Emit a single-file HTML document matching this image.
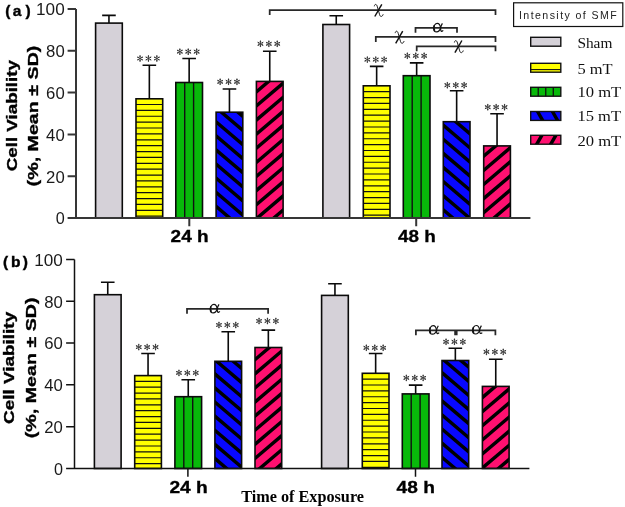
<!DOCTYPE html>
<html><head><meta charset="utf-8"><title>Cell viability</title><style>
html,body{margin:0;padding:0;background:#fff;}
svg{display:block;will-change:transform;}
text{font-family:"Liberation Sans",sans-serif;}
.tick{font-size:15.6px;fill:#1a1a1a;}
.xl{font-size:15.6px;font-weight:bold;fill:#000;stroke:#000;stroke-width:0.3px;}
.yl{font-size:15.4px;font-weight:bold;fill:#000;stroke:#000;stroke-width:0.35px;}
.pl{font-size:15.5px;font-weight:bold;fill:#000;stroke:#000;stroke-width:0.4px;}
.tx{font-family:"Liberation Serif",serif;font-size:16.3px;font-weight:bold;fill:#000;}
.lt{font-size:10.6px;fill:#222;}
.li{font-family:"Liberation Serif",serif;font-size:13.6px;fill:#111;}
.gk{font-family:"Liberation Serif",serif;font-size:18px;fill:#111;}
.ast{font-family:"Liberation Serif",serif;font-size:15px;fill:#333;text-anchor:middle;}
</style></head>
<body><svg width="625" height="507" viewBox="0 0 625 507">
<defs><clipPath id="c1"><rect x="216.1" y="112.2" width="26.7" height="105.8"/></clipPath><clipPath id="c2"><rect x="256.4" y="81.4" width="26.7" height="136.6"/></clipPath><clipPath id="c3"><rect x="443.3" y="121.7" width="26.7" height="96.3"/></clipPath><clipPath id="c4"><rect x="483.7" y="145.9" width="26.7" height="72.1"/></clipPath><clipPath id="c5"><rect x="214.9" y="361.3" width="26.7" height="107.2"/></clipPath><clipPath id="c6"><rect x="255" y="347.5" width="26.7" height="121"/></clipPath><clipPath id="c7"><rect x="442" y="360.5" width="26.7" height="108"/></clipPath><clipPath id="c8"><rect x="482.4" y="386.4" width="26.7" height="82.1"/></clipPath><clipPath id="c9"><rect x="530.7" y="111.5" width="30.1" height="8.9"/></clipPath><clipPath id="c10"><rect x="530.7" y="135.3" width="30.1" height="8.9"/></clipPath></defs>
<rect width="625" height="507" fill="#fff"/>
<path d="M108.95 23.1V15.4M102.15 15.4H115.75" stroke="#0a0a0a" stroke-width="1.6" fill="none"/>
<rect x="95.6" y="23.1" width="26.7" height="194.9" fill="#d5d1d8"/>
<rect x="95.6" y="23.1" width="26.7" height="194.9" fill="none" stroke="#0a0a0a" stroke-width="1.6"/>
<path d="M149.35 98.8V65.3M142.55 65.3H156.15" stroke="#0a0a0a" stroke-width="1.6" fill="none"/>
<rect x="136" y="98.8" width="26.7" height="119.2" fill="#ffff00"/>
<path d="M136 104.5H162.7M136 110.38H162.7M136 116.26H162.7M136 122.14H162.7M136 128.02H162.7M136 133.9H162.7M136 139.78H162.7M136 145.66H162.7M136 151.54H162.7M136 157.42H162.7M136 163.3H162.7M136 169.18H162.7M136 175.06H162.7M136 180.94H162.7M136 186.82H162.7M136 192.7H162.7M136 198.58H162.7M136 204.46H162.7M136 210.34H162.7M136 216.22H162.7" stroke="#111" stroke-width="1.2" fill="none"/>
<rect x="136" y="98.8" width="26.7" height="119.2" fill="none" stroke="#0a0a0a" stroke-width="1.6"/>
<path d="M140.05 55.6L140.05 61.4M137.54 57.05L142.56 59.95M137.54 59.95L142.56 57.05M148.45 55.6L148.45 61.4M145.94 57.05L150.96 59.95M145.94 59.95L150.96 57.05M156.85 55.6L156.85 61.4M154.34 57.05L159.36 59.95M154.34 59.95L159.36 57.05" stroke="#333" stroke-width="0.85" stroke-linecap="round" fill="none"/><g fill="#333"><circle cx="140.05" cy="60.75" r="0.72"/><circle cx="138.1" cy="59.62" r="0.72"/><circle cx="138.1" cy="57.38" r="0.72"/><circle cx="140.05" cy="56.25" r="0.72"/><circle cx="142" cy="57.38" r="0.72"/><circle cx="142" cy="59.62" r="0.72"/><circle cx="148.45" cy="60.75" r="0.72"/><circle cx="146.5" cy="59.62" r="0.72"/><circle cx="146.5" cy="57.38" r="0.72"/><circle cx="148.45" cy="56.25" r="0.72"/><circle cx="150.4" cy="57.38" r="0.72"/><circle cx="150.4" cy="59.62" r="0.72"/><circle cx="156.85" cy="60.75" r="0.72"/><circle cx="154.9" cy="59.62" r="0.72"/><circle cx="154.9" cy="57.38" r="0.72"/><circle cx="156.85" cy="56.25" r="0.72"/><circle cx="158.8" cy="57.38" r="0.72"/><circle cx="158.8" cy="59.62" r="0.72"/></g>
<path d="M189.15 82.5V58.5M182.35 58.5H195.95" stroke="#0a0a0a" stroke-width="1.6" fill="none"/>
<rect x="175.8" y="82.5" width="26.7" height="135.5" fill="#08b90a"/>
<path d="M184.7 82.5V218M193.6 82.5V218" stroke="#111" stroke-width="1.4" fill="none"/>
<rect x="175.8" y="82.5" width="26.7" height="135.5" fill="none" stroke="#0a0a0a" stroke-width="1.6"/>
<path d="M179.85 48.8L179.85 54.6M177.34 50.25L182.36 53.15M177.34 53.15L182.36 50.25M188.25 48.8L188.25 54.6M185.74 50.25L190.76 53.15M185.74 53.15L190.76 50.25M196.65 48.8L196.65 54.6M194.14 50.25L199.16 53.15M194.14 53.15L199.16 50.25" stroke="#333" stroke-width="0.85" stroke-linecap="round" fill="none"/><g fill="#333"><circle cx="179.85" cy="53.95" r="0.72"/><circle cx="177.9" cy="52.83" r="0.72"/><circle cx="177.9" cy="50.58" r="0.72"/><circle cx="179.85" cy="49.45" r="0.72"/><circle cx="181.8" cy="50.58" r="0.72"/><circle cx="181.8" cy="52.83" r="0.72"/><circle cx="188.25" cy="53.95" r="0.72"/><circle cx="186.3" cy="52.83" r="0.72"/><circle cx="186.3" cy="50.58" r="0.72"/><circle cx="188.25" cy="49.45" r="0.72"/><circle cx="190.2" cy="50.58" r="0.72"/><circle cx="190.2" cy="52.83" r="0.72"/><circle cx="196.65" cy="53.95" r="0.72"/><circle cx="194.7" cy="52.83" r="0.72"/><circle cx="194.7" cy="50.58" r="0.72"/><circle cx="196.65" cy="49.45" r="0.72"/><circle cx="198.6" cy="50.58" r="0.72"/><circle cx="198.6" cy="52.83" r="0.72"/></g>
<path d="M229.45 112.2V89M222.65 89H236.25" stroke="#0a0a0a" stroke-width="1.6" fill="none"/>
<rect x="216.1" y="112.2" width="26.7" height="105.8" fill="#0808ff"/>
<g clip-path="url(#c1)"><path d="M215.1 78.65L243.8 103.05M215.1 92.75L243.8 117.14M215.1 106.85L243.8 131.25M215.1 120.95L243.8 145.34M215.1 135.05L243.8 159.44M215.1 149.15L243.8 173.54M215.1 163.25L243.8 187.64M215.1 177.35L243.8 201.74M215.1 191.45L243.8 215.84M215.1 205.55L243.8 229.94M215.1 219.65L243.8 244.04M215.1 233.75L243.8 258.14M215.1 247.85L243.8 272.25" stroke="#000" stroke-width="3.43" fill="none"/></g>
<rect x="216.1" y="112.2" width="26.7" height="105.8" fill="none" stroke="#0a0a0a" stroke-width="1.6"/>
<path d="M220.15 78.9L220.15 84.7M217.64 80.35L222.66 83.25M217.64 83.25L222.66 80.35M228.55 78.9L228.55 84.7M226.04 80.35L231.06 83.25M226.04 83.25L231.06 80.35M236.95 78.9L236.95 84.7M234.44 80.35L239.46 83.25M234.44 83.25L239.46 80.35" stroke="#333" stroke-width="0.85" stroke-linecap="round" fill="none"/><g fill="#333"><circle cx="220.15" cy="84.05" r="0.72"/><circle cx="218.2" cy="82.92" r="0.72"/><circle cx="218.2" cy="80.67" r="0.72"/><circle cx="220.15" cy="79.55" r="0.72"/><circle cx="222.1" cy="80.67" r="0.72"/><circle cx="222.1" cy="82.92" r="0.72"/><circle cx="228.55" cy="84.05" r="0.72"/><circle cx="226.6" cy="82.92" r="0.72"/><circle cx="226.6" cy="80.67" r="0.72"/><circle cx="228.55" cy="79.55" r="0.72"/><circle cx="230.5" cy="80.67" r="0.72"/><circle cx="230.5" cy="82.92" r="0.72"/><circle cx="236.95" cy="84.05" r="0.72"/><circle cx="235" cy="82.92" r="0.72"/><circle cx="235" cy="80.67" r="0.72"/><circle cx="236.95" cy="79.55" r="0.72"/><circle cx="238.9" cy="80.67" r="0.72"/><circle cx="238.9" cy="82.92" r="0.72"/></g>
<path d="M269.75 81.4V51.2M262.95 51.2H276.55" stroke="#0a0a0a" stroke-width="1.6" fill="none"/>
<rect x="256.4" y="81.4" width="26.7" height="136.6" fill="#ff1070"/>
<g clip-path="url(#c2)"><path d="M255.4 64.45L284.1 40.06M255.4 78.55L284.1 54.16M255.4 92.65L284.1 68.26M255.4 106.75L284.1 82.36M255.4 120.85L284.1 96.46M255.4 134.95L284.1 110.56M255.4 149.05L284.1 124.66M255.4 163.15L284.1 138.76M255.4 177.25L284.1 152.86M255.4 191.35L284.1 166.96M255.4 205.45L284.1 181.06M255.4 219.55L284.1 195.16M255.4 233.65L284.1 209.26M255.4 247.75L284.1 223.36M255.4 261.85L284.1 237.46M255.4 275.95L284.1 251.56" stroke="#000" stroke-width="3.43" fill="none"/></g>
<rect x="256.4" y="81.4" width="26.7" height="136.6" fill="none" stroke="#0a0a0a" stroke-width="1.6"/>
<path d="M260.45 40.9L260.45 46.7M257.94 42.35L262.96 45.25M257.94 45.25L262.96 42.35M268.85 40.9L268.85 46.7M266.34 42.35L271.36 45.25M266.34 45.25L271.36 42.35M277.25 40.9L277.25 46.7M274.74 42.35L279.76 45.25M274.74 45.25L279.76 42.35" stroke="#333" stroke-width="0.85" stroke-linecap="round" fill="none"/><g fill="#333"><circle cx="260.45" cy="46.05" r="0.72"/><circle cx="258.5" cy="44.92" r="0.72"/><circle cx="258.5" cy="42.67" r="0.72"/><circle cx="260.45" cy="41.55" r="0.72"/><circle cx="262.4" cy="42.67" r="0.72"/><circle cx="262.4" cy="44.92" r="0.72"/><circle cx="268.85" cy="46.05" r="0.72"/><circle cx="266.9" cy="44.92" r="0.72"/><circle cx="266.9" cy="42.67" r="0.72"/><circle cx="268.85" cy="41.55" r="0.72"/><circle cx="270.8" cy="42.67" r="0.72"/><circle cx="270.8" cy="44.92" r="0.72"/><circle cx="277.25" cy="46.05" r="0.72"/><circle cx="275.3" cy="44.92" r="0.72"/><circle cx="275.3" cy="42.67" r="0.72"/><circle cx="277.25" cy="41.55" r="0.72"/><circle cx="279.2" cy="42.67" r="0.72"/><circle cx="279.2" cy="44.92" r="0.72"/></g>
<path d="M336.25 24.5V15.8M329.45 15.8H343.05" stroke="#0a0a0a" stroke-width="1.6" fill="none"/>
<rect x="322.9" y="24.5" width="26.7" height="193.5" fill="#d5d1d8"/>
<rect x="322.9" y="24.5" width="26.7" height="193.5" fill="none" stroke="#0a0a0a" stroke-width="1.6"/>
<path d="M376.65 85.8V66.4M369.85 66.4H383.45" stroke="#0a0a0a" stroke-width="1.6" fill="none"/>
<rect x="363.3" y="85.8" width="26.7" height="132.2" fill="#ffff00"/>
<path d="M363.3 91.7H390M363.3 97.58H390M363.3 103.46H390M363.3 109.34H390M363.3 115.22H390M363.3 121.1H390M363.3 126.98H390M363.3 132.86H390M363.3 138.74H390M363.3 144.62H390M363.3 150.5H390M363.3 156.38H390M363.3 162.26H390M363.3 168.14H390M363.3 174.02H390M363.3 179.9H390M363.3 185.78H390M363.3 191.66H390M363.3 197.54H390M363.3 203.42H390M363.3 209.3H390M363.3 215.18H390" stroke="#111" stroke-width="1.2" fill="none"/>
<rect x="363.3" y="85.8" width="26.7" height="132.2" fill="none" stroke="#0a0a0a" stroke-width="1.6"/>
<path d="M367.35 56.7L367.35 62.5M364.84 58.15L369.86 61.05M364.84 61.05L369.86 58.15M375.75 56.7L375.75 62.5M373.24 58.15L378.26 61.05M373.24 61.05L378.26 58.15M384.15 56.7L384.15 62.5M381.64 58.15L386.66 61.05M381.64 61.05L386.66 58.15" stroke="#333" stroke-width="0.85" stroke-linecap="round" fill="none"/><g fill="#333"><circle cx="367.35" cy="61.85" r="0.72"/><circle cx="365.4" cy="60.73" r="0.72"/><circle cx="365.4" cy="58.48" r="0.72"/><circle cx="367.35" cy="57.35" r="0.72"/><circle cx="369.3" cy="58.48" r="0.72"/><circle cx="369.3" cy="60.73" r="0.72"/><circle cx="375.75" cy="61.85" r="0.72"/><circle cx="373.8" cy="60.73" r="0.72"/><circle cx="373.8" cy="58.48" r="0.72"/><circle cx="375.75" cy="57.35" r="0.72"/><circle cx="377.7" cy="58.48" r="0.72"/><circle cx="377.7" cy="60.73" r="0.72"/><circle cx="384.15" cy="61.85" r="0.72"/><circle cx="382.2" cy="60.73" r="0.72"/><circle cx="382.2" cy="58.48" r="0.72"/><circle cx="384.15" cy="57.35" r="0.72"/><circle cx="386.1" cy="58.48" r="0.72"/><circle cx="386.1" cy="60.73" r="0.72"/></g>
<path d="M416.65 75.7V62.9M409.85 62.9H423.45" stroke="#0a0a0a" stroke-width="1.6" fill="none"/>
<rect x="403.3" y="75.7" width="26.7" height="142.3" fill="#08b90a"/>
<path d="M412.2 75.7V218M421.1 75.7V218" stroke="#111" stroke-width="1.4" fill="none"/>
<rect x="403.3" y="75.7" width="26.7" height="142.3" fill="none" stroke="#0a0a0a" stroke-width="1.6"/>
<path d="M407.35 52.9L407.35 58.7M404.84 54.35L409.86 57.25M404.84 57.25L409.86 54.35M415.75 52.9L415.75 58.7M413.24 54.35L418.26 57.25M413.24 57.25L418.26 54.35M424.15 52.9L424.15 58.7M421.64 54.35L426.66 57.25M421.64 57.25L426.66 54.35" stroke="#333" stroke-width="0.85" stroke-linecap="round" fill="none"/><g fill="#333"><circle cx="407.35" cy="58.05" r="0.72"/><circle cx="405.4" cy="56.92" r="0.72"/><circle cx="405.4" cy="54.67" r="0.72"/><circle cx="407.35" cy="53.55" r="0.72"/><circle cx="409.3" cy="54.67" r="0.72"/><circle cx="409.3" cy="56.92" r="0.72"/><circle cx="415.75" cy="58.05" r="0.72"/><circle cx="413.8" cy="56.92" r="0.72"/><circle cx="413.8" cy="54.67" r="0.72"/><circle cx="415.75" cy="53.55" r="0.72"/><circle cx="417.7" cy="54.67" r="0.72"/><circle cx="417.7" cy="56.92" r="0.72"/><circle cx="424.15" cy="58.05" r="0.72"/><circle cx="422.2" cy="56.92" r="0.72"/><circle cx="422.2" cy="54.67" r="0.72"/><circle cx="424.15" cy="53.55" r="0.72"/><circle cx="426.1" cy="54.67" r="0.72"/><circle cx="426.1" cy="56.92" r="0.72"/></g>
<path d="M456.65 121.7V90.8M449.85 90.8H463.45" stroke="#0a0a0a" stroke-width="1.6" fill="none"/>
<rect x="443.3" y="121.7" width="26.7" height="96.3" fill="#0808ff"/>
<g clip-path="url(#c3)"><path d="M442.3 82.05L471 106.45M442.3 96.15L471 120.55M442.3 110.25L471 134.65M442.3 124.35L471 148.75M442.3 138.45L471 162.84M442.3 152.55L471 176.94M442.3 166.65L471 191.04M442.3 180.75L471 205.14M442.3 194.85L471 219.24M442.3 208.95L471 233.34M442.3 223.05L471 247.44M442.3 237.15L471 261.55" stroke="#000" stroke-width="3.43" fill="none"/></g>
<rect x="443.3" y="121.7" width="26.7" height="96.3" fill="none" stroke="#0a0a0a" stroke-width="1.6"/>
<path d="M447.35 82.3L447.35 88.1M444.84 83.75L449.86 86.65M444.84 86.65L449.86 83.75M455.75 82.3L455.75 88.1M453.24 83.75L458.26 86.65M453.24 86.65L458.26 83.75M464.15 82.3L464.15 88.1M461.64 83.75L466.66 86.65M461.64 86.65L466.66 83.75" stroke="#333" stroke-width="0.85" stroke-linecap="round" fill="none"/><g fill="#333"><circle cx="447.35" cy="87.45" r="0.72"/><circle cx="445.4" cy="86.33" r="0.72"/><circle cx="445.4" cy="84.08" r="0.72"/><circle cx="447.35" cy="82.95" r="0.72"/><circle cx="449.3" cy="84.08" r="0.72"/><circle cx="449.3" cy="86.33" r="0.72"/><circle cx="455.75" cy="87.45" r="0.72"/><circle cx="453.8" cy="86.33" r="0.72"/><circle cx="453.8" cy="84.08" r="0.72"/><circle cx="455.75" cy="82.95" r="0.72"/><circle cx="457.7" cy="84.08" r="0.72"/><circle cx="457.7" cy="86.33" r="0.72"/><circle cx="464.15" cy="87.45" r="0.72"/><circle cx="462.2" cy="86.33" r="0.72"/><circle cx="462.2" cy="84.08" r="0.72"/><circle cx="464.15" cy="82.95" r="0.72"/><circle cx="466.1" cy="84.08" r="0.72"/><circle cx="466.1" cy="86.33" r="0.72"/></g>
<path d="M497.05 145.9V113.8M490.25 113.8H503.85" stroke="#0a0a0a" stroke-width="1.6" fill="none"/>
<rect x="483.7" y="145.9" width="26.7" height="72.1" fill="#ff1070"/>
<g clip-path="url(#c4)"><path d="M482.7 128.85L511.4 104.46M482.7 142.95L511.4 118.56M482.7 157.05L511.4 132.66M482.7 171.15L511.4 146.76M482.7 185.25L511.4 160.86M482.7 199.35L511.4 174.96M482.7 213.45L511.4 189.06M482.7 227.55L511.4 203.16M482.7 241.65L511.4 217.26M482.7 255.75L511.4 231.36M482.7 269.85L511.4 245.46" stroke="#000" stroke-width="3.43" fill="none"/></g>
<rect x="483.7" y="145.9" width="26.7" height="72.1" fill="none" stroke="#0a0a0a" stroke-width="1.6"/>
<path d="M487.75 104.3L487.75 110.1M485.24 105.75L490.26 108.65M485.24 108.65L490.26 105.75M496.15 104.3L496.15 110.1M493.64 105.75L498.66 108.65M493.64 108.65L498.66 105.75M504.55 104.3L504.55 110.1M502.04 105.75L507.06 108.65M502.04 108.65L507.06 105.75" stroke="#333" stroke-width="0.85" stroke-linecap="round" fill="none"/><g fill="#333"><circle cx="487.75" cy="109.45" r="0.72"/><circle cx="485.8" cy="108.33" r="0.72"/><circle cx="485.8" cy="106.08" r="0.72"/><circle cx="487.75" cy="104.95" r="0.72"/><circle cx="489.7" cy="106.08" r="0.72"/><circle cx="489.7" cy="108.33" r="0.72"/><circle cx="496.15" cy="109.45" r="0.72"/><circle cx="494.2" cy="108.33" r="0.72"/><circle cx="494.2" cy="106.08" r="0.72"/><circle cx="496.15" cy="104.95" r="0.72"/><circle cx="498.1" cy="106.08" r="0.72"/><circle cx="498.1" cy="108.33" r="0.72"/><circle cx="504.55" cy="109.45" r="0.72"/><circle cx="502.6" cy="108.33" r="0.72"/><circle cx="502.6" cy="106.08" r="0.72"/><circle cx="504.55" cy="104.95" r="0.72"/><circle cx="506.5" cy="106.08" r="0.72"/><circle cx="506.5" cy="108.33" r="0.72"/></g>
<path d="M107.75 294.7V282.3M100.95 282.3H114.55" stroke="#0a0a0a" stroke-width="1.6" fill="none"/>
<rect x="94.4" y="294.7" width="26.7" height="173.8" fill="#d5d1d8"/>
<rect x="94.4" y="294.7" width="26.7" height="173.8" fill="none" stroke="#0a0a0a" stroke-width="1.6"/>
<path d="M148.05 375.6V353.5M141.25 353.5H154.85" stroke="#0a0a0a" stroke-width="1.6" fill="none"/>
<rect x="134.7" y="375.6" width="26.7" height="92.9" fill="#ffff00"/>
<path d="M134.7 381.3H161.4M134.7 387.18H161.4M134.7 393.06H161.4M134.7 398.94H161.4M134.7 404.82H161.4M134.7 410.7H161.4M134.7 416.58H161.4M134.7 422.46H161.4M134.7 428.34H161.4M134.7 434.22H161.4M134.7 440.1H161.4M134.7 445.98H161.4M134.7 451.86H161.4M134.7 457.74H161.4M134.7 463.62H161.4" stroke="#111" stroke-width="1.2" fill="none"/>
<rect x="134.7" y="375.6" width="26.7" height="92.9" fill="none" stroke="#0a0a0a" stroke-width="1.6"/>
<path d="M138.75 344.2L138.75 350M136.24 345.65L141.26 348.55M136.24 348.55L141.26 345.65M147.15 344.2L147.15 350M144.64 345.65L149.66 348.55M144.64 348.55L149.66 345.65M155.55 344.2L155.55 350M153.04 345.65L158.06 348.55M153.04 348.55L158.06 345.65" stroke="#333" stroke-width="0.85" stroke-linecap="round" fill="none"/><g fill="#333"><circle cx="138.75" cy="349.35" r="0.72"/><circle cx="136.8" cy="348.23" r="0.72"/><circle cx="136.8" cy="345.98" r="0.72"/><circle cx="138.75" cy="344.85" r="0.72"/><circle cx="140.7" cy="345.98" r="0.72"/><circle cx="140.7" cy="348.23" r="0.72"/><circle cx="147.15" cy="349.35" r="0.72"/><circle cx="145.2" cy="348.23" r="0.72"/><circle cx="145.2" cy="345.98" r="0.72"/><circle cx="147.15" cy="344.85" r="0.72"/><circle cx="149.1" cy="345.98" r="0.72"/><circle cx="149.1" cy="348.23" r="0.72"/><circle cx="155.55" cy="349.35" r="0.72"/><circle cx="153.6" cy="348.23" r="0.72"/><circle cx="153.6" cy="345.98" r="0.72"/><circle cx="155.55" cy="344.85" r="0.72"/><circle cx="157.5" cy="345.98" r="0.72"/><circle cx="157.5" cy="348.23" r="0.72"/></g>
<path d="M188.25 396.7V379.7M181.45 379.7H195.05" stroke="#0a0a0a" stroke-width="1.6" fill="none"/>
<rect x="174.9" y="396.7" width="26.7" height="71.8" fill="#08b90a"/>
<path d="M183.8 396.7V468.5M192.7 396.7V468.5" stroke="#111" stroke-width="1.4" fill="none"/>
<rect x="174.9" y="396.7" width="26.7" height="71.8" fill="none" stroke="#0a0a0a" stroke-width="1.6"/>
<path d="M178.95 370L178.95 375.8M176.44 371.45L181.46 374.35M176.44 374.35L181.46 371.45M187.35 370L187.35 375.8M184.84 371.45L189.86 374.35M184.84 374.35L189.86 371.45M195.75 370L195.75 375.8M193.24 371.45L198.26 374.35M193.24 374.35L198.26 371.45" stroke="#333" stroke-width="0.85" stroke-linecap="round" fill="none"/><g fill="#333"><circle cx="178.95" cy="375.15" r="0.72"/><circle cx="177" cy="374.02" r="0.72"/><circle cx="177" cy="371.77" r="0.72"/><circle cx="178.95" cy="370.65" r="0.72"/><circle cx="180.9" cy="371.77" r="0.72"/><circle cx="180.9" cy="374.02" r="0.72"/><circle cx="187.35" cy="375.15" r="0.72"/><circle cx="185.4" cy="374.02" r="0.72"/><circle cx="185.4" cy="371.77" r="0.72"/><circle cx="187.35" cy="370.65" r="0.72"/><circle cx="189.3" cy="371.77" r="0.72"/><circle cx="189.3" cy="374.02" r="0.72"/><circle cx="195.75" cy="375.15" r="0.72"/><circle cx="193.8" cy="374.02" r="0.72"/><circle cx="193.8" cy="371.77" r="0.72"/><circle cx="195.75" cy="370.65" r="0.72"/><circle cx="197.7" cy="371.77" r="0.72"/><circle cx="197.7" cy="374.02" r="0.72"/></g>
<path d="M228.25 361.3V331.7M221.45 331.7H235.05" stroke="#0a0a0a" stroke-width="1.6" fill="none"/>
<rect x="214.9" y="361.3" width="26.7" height="107.2" fill="#0808ff"/>
<g clip-path="url(#c5)"><path d="M213.9 330.75L242.6 355.15M213.9 344.85L242.6 369.25M213.9 358.95L242.6 383.35M213.9 373.05L242.6 397.45M213.9 387.15L242.6 411.55M213.9 401.25L242.6 425.65M213.9 415.35L242.6 439.75M213.9 429.45L242.6 453.85M213.9 443.55L242.6 467.95M213.9 457.65L242.6 482.05M213.9 471.75L242.6 496.15M213.9 485.85L242.6 510.25M213.9 499.95L242.6 524.35" stroke="#000" stroke-width="3.43" fill="none"/></g>
<rect x="214.9" y="361.3" width="26.7" height="107.2" fill="none" stroke="#0a0a0a" stroke-width="1.6"/>
<path d="M218.95 322.1L218.95 327.9M216.44 323.55L221.46 326.45M216.44 326.45L221.46 323.55M227.35 322.1L227.35 327.9M224.84 323.55L229.86 326.45M224.84 326.45L229.86 323.55M235.75 322.1L235.75 327.9M233.24 323.55L238.26 326.45M233.24 326.45L238.26 323.55" stroke="#333" stroke-width="0.85" stroke-linecap="round" fill="none"/><g fill="#333"><circle cx="218.95" cy="327.25" r="0.72"/><circle cx="217" cy="326.12" r="0.72"/><circle cx="217" cy="323.88" r="0.72"/><circle cx="218.95" cy="322.75" r="0.72"/><circle cx="220.9" cy="323.88" r="0.72"/><circle cx="220.9" cy="326.12" r="0.72"/><circle cx="227.35" cy="327.25" r="0.72"/><circle cx="225.4" cy="326.12" r="0.72"/><circle cx="225.4" cy="323.88" r="0.72"/><circle cx="227.35" cy="322.75" r="0.72"/><circle cx="229.3" cy="323.88" r="0.72"/><circle cx="229.3" cy="326.12" r="0.72"/><circle cx="235.75" cy="327.25" r="0.72"/><circle cx="233.8" cy="326.12" r="0.72"/><circle cx="233.8" cy="323.88" r="0.72"/><circle cx="235.75" cy="322.75" r="0.72"/><circle cx="237.7" cy="323.88" r="0.72"/><circle cx="237.7" cy="326.12" r="0.72"/></g>
<path d="M268.35 347.5V330.1M261.55 330.1H275.15" stroke="#0a0a0a" stroke-width="1.6" fill="none"/>
<rect x="255" y="347.5" width="26.7" height="121" fill="#ff1070"/>
<g clip-path="url(#c6)"><path d="M254 332.35L282.7 307.95M254 346.45L282.7 322.05M254 360.55L282.7 336.15M254 374.65L282.7 350.25M254 388.75L282.7 364.35M254 402.85L282.7 378.45M254 416.95L282.7 392.55M254 431.05L282.7 406.65M254 445.15L282.7 420.75M254 459.25L282.7 434.85M254 473.35L282.7 448.95M254 487.45L282.7 463.05M254 501.55L282.7 477.15M254 515.65L282.7 491.25M254 529.75L282.7 505.35" stroke="#000" stroke-width="3.43" fill="none"/></g>
<rect x="255" y="347.5" width="26.7" height="121" fill="none" stroke="#0a0a0a" stroke-width="1.6"/>
<path d="M259.05 318.1L259.05 323.9M256.54 319.55L261.56 322.45M256.54 322.45L261.56 319.55M267.45 318.1L267.45 323.9M264.94 319.55L269.96 322.45M264.94 322.45L269.96 319.55M275.85 318.1L275.85 323.9M273.34 319.55L278.36 322.45M273.34 322.45L278.36 319.55" stroke="#333" stroke-width="0.85" stroke-linecap="round" fill="none"/><g fill="#333"><circle cx="259.05" cy="323.25" r="0.72"/><circle cx="257.1" cy="322.12" r="0.72"/><circle cx="257.1" cy="319.88" r="0.72"/><circle cx="259.05" cy="318.75" r="0.72"/><circle cx="261" cy="319.88" r="0.72"/><circle cx="261" cy="322.12" r="0.72"/><circle cx="267.45" cy="323.25" r="0.72"/><circle cx="265.5" cy="322.12" r="0.72"/><circle cx="265.5" cy="319.88" r="0.72"/><circle cx="267.45" cy="318.75" r="0.72"/><circle cx="269.4" cy="319.88" r="0.72"/><circle cx="269.4" cy="322.12" r="0.72"/><circle cx="275.85" cy="323.25" r="0.72"/><circle cx="273.9" cy="322.12" r="0.72"/><circle cx="273.9" cy="319.88" r="0.72"/><circle cx="275.85" cy="318.75" r="0.72"/><circle cx="277.8" cy="319.88" r="0.72"/><circle cx="277.8" cy="322.12" r="0.72"/></g>
<path d="M334.95 295.4V283.7M328.15 283.7H341.75" stroke="#0a0a0a" stroke-width="1.6" fill="none"/>
<rect x="321.6" y="295.4" width="26.7" height="173.1" fill="#d5d1d8"/>
<rect x="321.6" y="295.4" width="26.7" height="173.1" fill="none" stroke="#0a0a0a" stroke-width="1.6"/>
<path d="M375.65 373.3V353.5M368.85 353.5H382.45" stroke="#0a0a0a" stroke-width="1.6" fill="none"/>
<rect x="362.3" y="373.3" width="26.7" height="95.2" fill="#ffff00"/>
<path d="M362.3 379.1H389M362.3 384.98H389M362.3 390.86H389M362.3 396.74H389M362.3 402.62H389M362.3 408.5H389M362.3 414.38H389M362.3 420.26H389M362.3 426.14H389M362.3 432.02H389M362.3 437.9H389M362.3 443.78H389M362.3 449.66H389M362.3 455.54H389M362.3 461.42H389M362.3 467.3H389" stroke="#111" stroke-width="1.2" fill="none"/>
<rect x="362.3" y="373.3" width="26.7" height="95.2" fill="none" stroke="#0a0a0a" stroke-width="1.6"/>
<path d="M366.35 344.9L366.35 350.7M363.84 346.35L368.86 349.25M363.84 349.25L368.86 346.35M374.75 344.9L374.75 350.7M372.24 346.35L377.26 349.25M372.24 349.25L377.26 346.35M383.15 344.9L383.15 350.7M380.64 346.35L385.66 349.25M380.64 349.25L385.66 346.35" stroke="#333" stroke-width="0.85" stroke-linecap="round" fill="none"/><g fill="#333"><circle cx="366.35" cy="350.05" r="0.72"/><circle cx="364.4" cy="348.93" r="0.72"/><circle cx="364.4" cy="346.68" r="0.72"/><circle cx="366.35" cy="345.55" r="0.72"/><circle cx="368.3" cy="346.68" r="0.72"/><circle cx="368.3" cy="348.93" r="0.72"/><circle cx="374.75" cy="350.05" r="0.72"/><circle cx="372.8" cy="348.93" r="0.72"/><circle cx="372.8" cy="346.68" r="0.72"/><circle cx="374.75" cy="345.55" r="0.72"/><circle cx="376.7" cy="346.68" r="0.72"/><circle cx="376.7" cy="348.93" r="0.72"/><circle cx="383.15" cy="350.05" r="0.72"/><circle cx="381.2" cy="348.93" r="0.72"/><circle cx="381.2" cy="346.68" r="0.72"/><circle cx="383.15" cy="345.55" r="0.72"/><circle cx="385.1" cy="346.68" r="0.72"/><circle cx="385.1" cy="348.93" r="0.72"/></g>
<path d="M415.65 393.9V385.1M408.85 385.1H422.45" stroke="#0a0a0a" stroke-width="1.6" fill="none"/>
<rect x="402.3" y="393.9" width="26.7" height="74.6" fill="#08b90a"/>
<path d="M411.2 393.9V468.5M420.1 393.9V468.5" stroke="#111" stroke-width="1.4" fill="none"/>
<rect x="402.3" y="393.9" width="26.7" height="74.6" fill="none" stroke="#0a0a0a" stroke-width="1.6"/>
<path d="M406.35 375L406.35 380.8M403.84 376.45L408.86 379.35M403.84 379.35L408.86 376.45M414.75 375L414.75 380.8M412.24 376.45L417.26 379.35M412.24 379.35L417.26 376.45M423.15 375L423.15 380.8M420.64 376.45L425.66 379.35M420.64 379.35L425.66 376.45" stroke="#333" stroke-width="0.85" stroke-linecap="round" fill="none"/><g fill="#333"><circle cx="406.35" cy="380.15" r="0.72"/><circle cx="404.4" cy="379.02" r="0.72"/><circle cx="404.4" cy="376.77" r="0.72"/><circle cx="406.35" cy="375.65" r="0.72"/><circle cx="408.3" cy="376.77" r="0.72"/><circle cx="408.3" cy="379.02" r="0.72"/><circle cx="414.75" cy="380.15" r="0.72"/><circle cx="412.8" cy="379.02" r="0.72"/><circle cx="412.8" cy="376.77" r="0.72"/><circle cx="414.75" cy="375.65" r="0.72"/><circle cx="416.7" cy="376.77" r="0.72"/><circle cx="416.7" cy="379.02" r="0.72"/><circle cx="423.15" cy="380.15" r="0.72"/><circle cx="421.2" cy="379.02" r="0.72"/><circle cx="421.2" cy="376.77" r="0.72"/><circle cx="423.15" cy="375.65" r="0.72"/><circle cx="425.1" cy="376.77" r="0.72"/><circle cx="425.1" cy="379.02" r="0.72"/></g>
<path d="M455.35 360.5V348.2M448.55 348.2H462.15" stroke="#0a0a0a" stroke-width="1.6" fill="none"/>
<rect x="442" y="360.5" width="26.7" height="108" fill="#0808ff"/>
<g clip-path="url(#c7)"><path d="M441 329.55L469.7 353.94M441 343.65L469.7 368.05M441 357.75L469.7 382.14M441 371.85L469.7 396.25M441 385.95L469.7 410.35M441 400.05L469.7 424.44M441 414.15L469.7 438.55M441 428.25L469.7 452.64M441 442.35L469.7 466.75M441 456.45L469.7 480.84M441 470.55L469.7 494.94M441 484.65L469.7 509.05M441 498.75L469.7 523.14" stroke="#000" stroke-width="3.43" fill="none"/></g>
<rect x="442" y="360.5" width="26.7" height="108" fill="none" stroke="#0a0a0a" stroke-width="1.6"/>
<path d="M446.05 338.9L446.05 344.7M443.54 340.35L448.56 343.25M443.54 343.25L448.56 340.35M454.45 338.9L454.45 344.7M451.94 340.35L456.96 343.25M451.94 343.25L456.96 340.35M462.85 338.9L462.85 344.7M460.34 340.35L465.36 343.25M460.34 343.25L465.36 340.35" stroke="#333" stroke-width="0.85" stroke-linecap="round" fill="none"/><g fill="#333"><circle cx="446.05" cy="344.05" r="0.72"/><circle cx="444.1" cy="342.93" r="0.72"/><circle cx="444.1" cy="340.68" r="0.72"/><circle cx="446.05" cy="339.55" r="0.72"/><circle cx="448" cy="340.68" r="0.72"/><circle cx="448" cy="342.93" r="0.72"/><circle cx="454.45" cy="344.05" r="0.72"/><circle cx="452.5" cy="342.93" r="0.72"/><circle cx="452.5" cy="340.68" r="0.72"/><circle cx="454.45" cy="339.55" r="0.72"/><circle cx="456.4" cy="340.68" r="0.72"/><circle cx="456.4" cy="342.93" r="0.72"/><circle cx="462.85" cy="344.05" r="0.72"/><circle cx="460.9" cy="342.93" r="0.72"/><circle cx="460.9" cy="340.68" r="0.72"/><circle cx="462.85" cy="339.55" r="0.72"/><circle cx="464.8" cy="340.68" r="0.72"/><circle cx="464.8" cy="342.93" r="0.72"/></g>
<path d="M495.75 386.4V359.2M488.95 359.2H502.55" stroke="#0a0a0a" stroke-width="1.6" fill="none"/>
<rect x="482.4" y="386.4" width="26.7" height="82.1" fill="#ff1070"/>
<g clip-path="url(#c8)"><path d="M481.4 370.15L510.1 345.75M481.4 384.25L510.1 359.85M481.4 398.35L510.1 373.95M481.4 412.45L510.1 388.06M481.4 426.55L510.1 402.15M481.4 440.65L510.1 416.25M481.4 454.75L510.1 430.35M481.4 468.85L510.1 444.45M481.4 482.95L510.1 458.56M481.4 497.05L510.1 472.65M481.4 511.15L510.1 486.75M481.4 525.25L510.1 500.85" stroke="#000" stroke-width="3.43" fill="none"/></g>
<rect x="482.4" y="386.4" width="26.7" height="82.1" fill="none" stroke="#0a0a0a" stroke-width="1.6"/>
<path d="M486.45 349L486.45 354.8M483.94 350.45L488.96 353.35M483.94 353.35L488.96 350.45M494.85 349L494.85 354.8M492.34 350.45L497.36 353.35M492.34 353.35L497.36 350.45M503.25 349L503.25 354.8M500.74 350.45L505.76 353.35M500.74 353.35L505.76 350.45" stroke="#333" stroke-width="0.85" stroke-linecap="round" fill="none"/><g fill="#333"><circle cx="486.45" cy="354.15" r="0.72"/><circle cx="484.5" cy="353.02" r="0.72"/><circle cx="484.5" cy="350.77" r="0.72"/><circle cx="486.45" cy="349.65" r="0.72"/><circle cx="488.4" cy="350.77" r="0.72"/><circle cx="488.4" cy="353.02" r="0.72"/><circle cx="494.85" cy="354.15" r="0.72"/><circle cx="492.9" cy="353.02" r="0.72"/><circle cx="492.9" cy="350.77" r="0.72"/><circle cx="494.85" cy="349.65" r="0.72"/><circle cx="496.8" cy="350.77" r="0.72"/><circle cx="496.8" cy="353.02" r="0.72"/><circle cx="503.25" cy="354.15" r="0.72"/><circle cx="501.3" cy="353.02" r="0.72"/><circle cx="501.3" cy="350.77" r="0.72"/><circle cx="503.25" cy="349.65" r="0.72"/><circle cx="505.2" cy="350.77" r="0.72"/><circle cx="505.2" cy="353.02" r="0.72"/></g>
<path d="M76 9V218M67.6 218H530.4M67.6 176.2H76M67.6 134.4H76M67.6 92.6H76M67.6 50.8H76M67.6 9H76M189.3 218V226.3M416.2 218V226.3" stroke="#363636" stroke-width="2.0" fill="none"/>
<text x="64.7" y="224.4" class="tick" text-anchor="end" textLength="9.0" lengthAdjust="spacingAndGlyphs">0</text>
<text x="64.7" y="182.6" class="tick" text-anchor="end" textLength="18.6" lengthAdjust="spacingAndGlyphs">20</text>
<text x="64.7" y="140.8" class="tick" text-anchor="end" textLength="18.6" lengthAdjust="spacingAndGlyphs">40</text>
<text x="64.7" y="99" class="tick" text-anchor="end" textLength="18.6" lengthAdjust="spacingAndGlyphs">60</text>
<text x="64.7" y="57.2" class="tick" text-anchor="end" textLength="18.6" lengthAdjust="spacingAndGlyphs">80</text>
<text x="64.7" y="15.4" class="tick" text-anchor="end" textLength="28.6" lengthAdjust="spacingAndGlyphs">100</text>
<path d="M74.5 259.4V468.5M66.1 468.5H529.4M66.1 426.68H74.5M66.1 384.86H74.5M66.1 343.04H74.5M66.1 301.22H74.5M66.1 259.4H74.5M187.9 468.5V476.8M415.5 468.5V476.8" stroke="#111" stroke-width="1.5" fill="none"/>
<text x="62.9" y="474.9" class="tick" text-anchor="end" textLength="9.0" lengthAdjust="spacingAndGlyphs">0</text>
<text x="62.9" y="433.08" class="tick" text-anchor="end" textLength="18.6" lengthAdjust="spacingAndGlyphs">20</text>
<text x="62.9" y="391.26" class="tick" text-anchor="end" textLength="18.6" lengthAdjust="spacingAndGlyphs">40</text>
<text x="62.9" y="349.44" class="tick" text-anchor="end" textLength="18.6" lengthAdjust="spacingAndGlyphs">60</text>
<text x="62.9" y="307.62" class="tick" text-anchor="end" textLength="18.6" lengthAdjust="spacingAndGlyphs">80</text>
<text x="62.9" y="265.8" class="tick" text-anchor="end" textLength="28.6" lengthAdjust="spacingAndGlyphs">100</text>
<text x="170.6" y="241.9" class="xl" textLength="38" lengthAdjust="spacingAndGlyphs">24 h</text>
<text x="398" y="242.1" class="xl" textLength="37.8" lengthAdjust="spacingAndGlyphs">48 h</text>
<text x="169.4" y="492.8" class="xl" textLength="38.4" lengthAdjust="spacingAndGlyphs">24 h</text>
<text x="396.6" y="493" class="xl" textLength="38.3" lengthAdjust="spacingAndGlyphs">48 h</text>
<text x="241.2" y="501.7" class="tx" textLength="122.8" lengthAdjust="spacingAndGlyphs">Time of Exposure</text>
<text transform="translate(16.5,171.3) rotate(-90)" class="yl" textLength="111.3" lengthAdjust="spacingAndGlyphs">Cell Viability</text>
<text transform="translate(38,186.4) rotate(-90)" class="yl" textLength="140.8" lengthAdjust="spacingAndGlyphs">(%, Mean ± SD)</text>
<text transform="translate(14.4,424) rotate(-90)" class="yl" textLength="112.2" lengthAdjust="spacingAndGlyphs">Cell Viability</text>
<text transform="translate(36,438.3) rotate(-90)" class="yl" textLength="140.9" lengthAdjust="spacingAndGlyphs">(%, Mean ± SD)</text>
<text x="7.85" y="16.3" class="pl" text-anchor="middle">(</text>
<text x="17.1" y="16.3" class="pl" text-anchor="middle">a</text>
<text x="28" y="16.3" class="pl" text-anchor="middle">)</text>
<text x="5.6" y="267" class="pl" text-anchor="middle">(</text>
<text x="15.85" y="267" class="pl" text-anchor="middle">b</text>
<text x="25.45" y="267" class="pl" text-anchor="middle">)</text>
<path d="M269.7 14.9V10H495.5V14.9M415.5 32.8V27.8H457V32.8M375.8 42V36.8H495.5V42M416.7 51.3V46.4H495.5V51.3M187 313.8V308.9H268.1V313.8M415.9 335.3V330.3H455.1V335.3M456.7 335.3V330.3H495.4V335.3" stroke="#282828" stroke-width="1.75" fill="none"/>
<g transform="translate(378.7,10.4)" fill="none" stroke="#111"><path d="M3.1 -6.1L-3.9 6.1" stroke-width="1.45"/><path d="M-4.4 -4.1C-4.1 -6.6 -2.1 -6.8 -1.3 -3.6L0.9 4.3C1.5 6.8 3.6 6.6 4.5 3.9" stroke-width="0.95"/></g>
<g transform="translate(438.3,27.5)" fill="none" stroke="#111"><path d="M2.3 0.5C1.9 -2.4 0.4 -4.2 -1.0 -4.2C-3.2 -4.2 -4.7 -1.5 -4.7 0.9C-4.7 3.1 -3.5 4.3 -1.7 4.3C0.2 4.3 1.7 2.4 2.3 0.5" stroke-width="1.15"/><path d="M-4.0 -2.3C-4.6 -0.6 -4.6 1.8 -3.6 3.4" stroke-width="1.6"/><path d="M4.1 -4.1C3.1 -2.5 2.4 -0.9 2.3 0.5C2.2 2.5 2.7 3.9 3.5 3.8C4.1 3.7 4.5 3.4 4.9 2.9" stroke-width="1.2"/></g>
<g transform="translate(399.6,37.2)" fill="none" stroke="#111"><path d="M3.1 -6.1L-3.9 6.1" stroke-width="1.45"/><path d="M-4.4 -4.1C-4.1 -6.6 -2.1 -6.8 -1.3 -3.6L0.9 4.3C1.5 6.8 3.6 6.6 4.5 3.9" stroke-width="0.95"/></g>
<g transform="translate(458.8,46.6)" fill="none" stroke="#111"><path d="M3.1 -6.1L-3.9 6.1" stroke-width="1.45"/><path d="M-4.4 -4.1C-4.1 -6.6 -2.1 -6.8 -1.3 -3.6L0.9 4.3C1.5 6.8 3.6 6.6 4.5 3.9" stroke-width="0.95"/></g>
<g transform="translate(214.9,308.5)" fill="none" stroke="#111"><path d="M2.3 0.5C1.9 -2.4 0.4 -4.2 -1.0 -4.2C-3.2 -4.2 -4.7 -1.5 -4.7 0.9C-4.7 3.1 -3.5 4.3 -1.7 4.3C0.2 4.3 1.7 2.4 2.3 0.5" stroke-width="1.15"/><path d="M-4.0 -2.3C-4.6 -0.6 -4.6 1.8 -3.6 3.4" stroke-width="1.6"/><path d="M4.1 -4.1C3.1 -2.5 2.4 -0.9 2.3 0.5C2.2 2.5 2.7 3.9 3.5 3.8C4.1 3.7 4.5 3.4 4.9 2.9" stroke-width="1.2"/></g>
<g transform="translate(434.2,329.8)" fill="none" stroke="#111"><path d="M2.3 0.5C1.9 -2.4 0.4 -4.2 -1.0 -4.2C-3.2 -4.2 -4.7 -1.5 -4.7 0.9C-4.7 3.1 -3.5 4.3 -1.7 4.3C0.2 4.3 1.7 2.4 2.3 0.5" stroke-width="1.15"/><path d="M-4.0 -2.3C-4.6 -0.6 -4.6 1.8 -3.6 3.4" stroke-width="1.6"/><path d="M4.1 -4.1C3.1 -2.5 2.4 -0.9 2.3 0.5C2.2 2.5 2.7 3.9 3.5 3.8C4.1 3.7 4.5 3.4 4.9 2.9" stroke-width="1.2"/></g>
<g transform="translate(477.3,329.7)" fill="none" stroke="#111"><path d="M2.3 0.5C1.9 -2.4 0.4 -4.2 -1.0 -4.2C-3.2 -4.2 -4.7 -1.5 -4.7 0.9C-4.7 3.1 -3.5 4.3 -1.7 4.3C0.2 4.3 1.7 2.4 2.3 0.5" stroke-width="1.15"/><path d="M-4.0 -2.3C-4.6 -0.6 -4.6 1.8 -3.6 3.4" stroke-width="1.6"/><path d="M4.1 -4.1C3.1 -2.5 2.4 -0.9 2.3 0.5C2.2 2.5 2.7 3.9 3.5 3.8C4.1 3.7 4.5 3.4 4.9 2.9" stroke-width="1.2"/></g>
<rect x="513.6" y="2.8" width="109.2" height="23.7" fill="#fff" stroke="#111" stroke-width="1.2"/>
<text x="519.0" y="19.2" class="lt" textLength="97.8" lengthAdjust="spacing">Intensity of SMF</text>
<rect x="530.7" y="37.3" width="30.1" height="8.9" fill="#d5d1d8"/>
<rect x="530.7" y="37.3" width="30.1" height="8.9" fill="none" stroke="#111" stroke-width="1.4"/>
<text x="577.4" y="47.5" class="li" textLength="35.0" lengthAdjust="spacingAndGlyphs">Sham</text>
<rect x="530.7" y="63.3" width="30.1" height="8.9" fill="#ffff00"/>
<path d="M530.7 69.6H560.8" stroke="#111" stroke-width="1.1"/>
<rect x="530.7" y="63.3" width="30.1" height="8.9" fill="none" stroke="#111" stroke-width="1.4"/>
<text x="577.4" y="73.5" class="li" textLength="35.2" lengthAdjust="spacingAndGlyphs">5 mT</text>
<rect x="530.7" y="87.3" width="30.1" height="8.9" fill="#08b90a"/>
<path d="M538.23 87.3V96.2M545.75 87.3V96.2M553.28 87.3V96.2" stroke="#111" stroke-width="1.3"/>
<rect x="530.7" y="87.3" width="30.1" height="8.9" fill="none" stroke="#111" stroke-width="1.4"/>
<text x="577.4" y="96.7" class="li" textLength="43.8" lengthAdjust="spacingAndGlyphs">10 mT</text>
<rect x="530.7" y="111.5" width="30.1" height="8.9" fill="#0808ff"/>
<g clip-path="url(#c9)"><path d="M522.1 110.5L528.3 121.4M537 110.5L543.2 121.4M551.9 110.5L558.1 121.4M566.8 110.5L573 121.4" stroke="#000" stroke-width="3.4"/></g>
<rect x="530.7" y="111.5" width="30.1" height="8.9" fill="none" stroke="#111" stroke-width="1.4"/>
<text x="577.4" y="121.4" class="li" textLength="43.6" lengthAdjust="spacingAndGlyphs">15 mT</text>
<rect x="530.7" y="135.3" width="30.1" height="8.9" fill="#ff1070"/>
<g clip-path="url(#c10)"><path d="M522.2 145.2L528.4 134.3M536.2 145.2L542.4 134.3M550.2 145.2L556.4 134.3M564.2 145.2L570.4 134.3" stroke="#000" stroke-width="3.4"/></g>
<rect x="530.7" y="135.3" width="30.1" height="8.9" fill="none" stroke="#111" stroke-width="1.4"/>
<text x="577.4" y="145.6" class="li" textLength="43.8" lengthAdjust="spacingAndGlyphs">20 mT</text>
</svg></body></html>
